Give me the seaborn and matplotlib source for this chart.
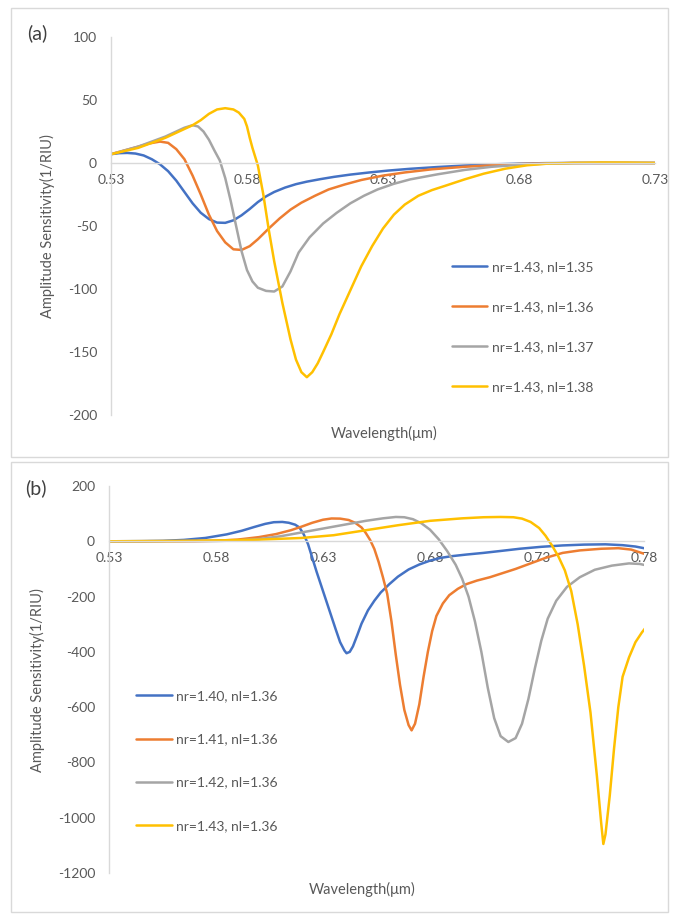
import numpy as np
import pandas as pd
import matplotlib
matplotlib.use("Agg")
import matplotlib.pyplot as plt
from matplotlib.patches import Rectangle
import seaborn as sns

# ---------------- data: panel (a) ----------------
a_labels = ["nr=1.43, nl=1.35", "nr=1.43, nl=1.36", "nr=1.43, nl=1.37", "nr=1.43, nl=1.38"]

a_x_135 = [0.530, 0.533, 0.536, 0.539, 0.542, 0.545, 0.548, 0.551, 0.554, 0.557, 0.560, 0.563,
           0.566, 0.569, 0.572, 0.575, 0.578, 0.581, 0.584, 0.587, 0.590, 0.594, 0.598, 0.602,
           0.607, 0.612, 0.618, 0.625, 0.632, 0.640, 0.650, 0.660, 0.670, 0.680, 0.690, 0.700,
           0.730]
a_y_135 = [7, 7.8, 8, 7.5, 6, 3, -1, -6.5, -14, -23, -32, -39.5,
           -44.5, -47.3, -47.5, -45.5, -41.5, -36.5, -31, -26.5, -23, -19.5, -16.8, -14.8,
           -12.8, -11, -9.2, -7.5, -6, -4.6, -3.2, -2, -1.1, -0.5, -0.1, 0,
           0]

a_x_136 = [0.530, 0.535, 0.540, 0.544, 0.548, 0.551, 0.554, 0.557, 0.560, 0.563, 0.566, 0.569,
           0.572, 0.575, 0.578, 0.581, 0.584, 0.588, 0.592, 0.596, 0.600, 0.605, 0.610, 0.616,
           0.622, 0.630, 0.638, 0.648, 0.660, 0.670, 0.680, 0.690, 0.700, 0.730]
a_y_136 = [7, 10, 13, 15.5, 17, 16, 11, 3, -10, -25, -41, -54,
           -63, -68.5, -69, -66, -60.5, -52, -44, -37, -31.5, -26, -21, -17,
           -13.5, -10, -7.5, -5, -3, -1.8, -0.8, -0.3, 0, 0]

a_x_137 = [0.530, 0.535, 0.540, 0.545, 0.550, 0.554, 0.557, 0.560, 0.562, 0.564, 0.566, 0.568,
           0.570, 0.572, 0.574, 0.576, 0.578, 0.580, 0.582, 0.584, 0.587, 0.590, 0.593, 0.596,
           0.599, 0.603, 0.608, 0.613, 0.618, 0.623, 0.628, 0.634, 0.640, 0.650, 0.660, 0.670,
           0.680, 0.690, 0.700, 0.730]
a_y_137 = [7, 10, 13, 17, 21, 25, 28, 30, 29, 25, 18.5, 10,
           2, -12, -30, -50, -70, -85, -94, -99, -101.5, -102, -98, -86,
           -71, -59, -48, -39.5, -32, -26, -21, -16.5, -13, -9, -5.5, -3,
           -1.5, -0.5, 0, 0]

a_x_138 = [0.530, 0.535, 0.540, 0.545, 0.550, 0.555, 0.560, 0.563, 0.566, 0.569, 0.572, 0.575,
           0.577, 0.579, 0.580, 0.581, 0.582, 0.583, 0.584, 0.586, 0.588, 0.590, 0.593, 0.596,
           0.598, 0.600, 0.602, 0.604, 0.606, 0.608, 0.611, 0.614, 0.618, 0.622, 0.626, 0.630,
           0.634, 0.638, 0.643, 0.648, 0.653, 0.660, 0.667, 0.675, 0.683, 0.690, 0.700, 0.710,
           0.720, 0.730]
a_y_138 = [7, 9.5, 12, 16, 20, 25, 30, 34, 39, 42.5, 43.5, 42.5,
           40, 35, 29, 20, 12, 5, -2, -25, -53, -78, -111, -140,
           -156, -166, -170, -166, -159, -150, -136, -120, -101, -82, -66, -52,
           -41, -33, -26, -21.5, -18, -13, -8.5, -4.5, -1.8, -0.6, 0, 0.4,
           0.3, 0]

# ---------------- data: panel (b) ----------------
b_labels = ["nr=1.40, nl=1.36", "nr=1.41, nl=1.36", "nr=1.42, nl=1.36", "nr=1.43, nl=1.36"]

b_x_140 = [0.530, 0.545, 0.555, 0.565, 0.575, 0.585, 0.592, 0.598, 0.603, 0.607, 0.611, 0.614,
           0.617, 0.619, 0.621, 0.623, 0.625, 0.627, 0.630, 0.633, 0.636, 0.638, 0.640, 0.641,
           0.6425, 0.644, 0.646, 0.648, 0.651, 0.654, 0.657, 0.661, 0.665, 0.670, 0.675, 0.680,
           0.685, 0.690, 0.697, 0.705, 0.713, 0.722, 0.732, 0.742, 0.752, 0.762, 0.770, 0.776,
           0.780]
b_y_140 = [0, 0.5, 1.5, 5, 12, 25, 38, 52, 63, 69, 70, 67,
           60, 50, 25, -10, -60, -110, -180, -250, -320, -365, -395, -405,
           -400, -380, -340, -298, -250, -215, -185, -155, -128, -102, -84, -70,
           -60, -54, -48, -42, -35, -27, -20, -15, -12, -11, -14, -19,
           -25]

b_x_141 = [0.530, 0.570, 0.580, 0.590, 0.600, 0.608, 0.615, 0.620, 0.625, 0.630, 0.634, 0.638,
           0.642, 0.645, 0.648, 0.650, 0.652, 0.654, 0.656, 0.658, 0.660, 0.662, 0.664, 0.666,
           0.668, 0.670, 0.6714, 0.673, 0.675, 0.677, 0.679, 0.681, 0.683, 0.686, 0.689, 0.693,
           0.697, 0.702, 0.708, 0.714, 0.720, 0.727, 0.734, 0.742, 0.750, 0.760, 0.768, 0.774,
           0.780]
b_y_141 = [0, 0.5, 2, 6, 15, 26, 40, 53, 67, 78, 82.5, 82,
           77, 67, 50, 30, 5, -28, -75, -130, -190, -290, -410, -520,
           -610, -665, -684, -660, -590, -490, -400, -325, -270, -225, -195, -172,
           -155, -142, -130, -115, -100, -80, -60, -42, -33, -27, -25, -30,
           -45]

b_x_142 = [0.530, 0.580, 0.590, 0.600, 0.610, 0.620, 0.630, 0.640, 0.650, 0.658, 0.664, 0.668,
           0.672, 0.676, 0.680, 0.684, 0.688, 0.692, 0.695, 0.698, 0.701, 0.704, 0.707, 0.710,
           0.713, 0.7166, 0.720, 0.723, 0.726, 0.729, 0.732, 0.735, 0.739, 0.744, 0.750, 0.757,
           0.765, 0.773, 0.778, 0.781]
b_y_142 = [0, 1, 3, 8, 18, 32, 46, 60, 74, 83, 88, 87,
           80, 65, 42, 8, -35, -85, -135, -200, -290, -400, -530, -640,
           -705, -726, -712, -660, -570, -460, -360, -280, -215, -165, -130, -103,
           -88, -80, -82, -87]

b_x_143 = [0.530, 0.560, 0.580, 0.600, 0.620, 0.635, 0.650, 0.665, 0.680, 0.695, 0.705, 0.713,
           0.719, 0.723, 0.727, 0.731, 0.734, 0.737, 0.740, 0.743, 0.746, 0.749, 0.752, 0.755,
           0.758, 0.760, 0.761, 0.762, 0.764, 0.766, 0.768, 0.770, 0.773, 0.776, 0.779, 0.781]
b_y_143 = [0, 1, 3, 6, 12, 22, 40, 58, 74, 83, 87, 88,
           87, 82, 70, 48, 20, -15, -55, -105, -180, -300, -450, -620,
           -850, -1020, -1095, -1060, -920, -750, -600, -490, -420, -365, -330, -310]

colors = ["#4472C4", "#ED7D31", "#A5A5A5", "#FFC000"]

a_yticks = [-200, -150, -100, -50, 0, 50, 100]
a_xticks = [0.53, 0.58, 0.63, 0.68, 0.73]
b_yticks = [-1200, -1000, -800, -600, -400, -200, 0, 200]
b_xticks = [0.53, 0.58, 0.63, 0.68, 0.73, 0.78]


def frame(xs, ys, labels):
    parts = []
    for x, y, lab in zip(xs, ys, labels):
        parts.append(pd.DataFrame({"wl": x, "s": y, "series": lab}))
    return pd.concat(parts, ignore_index=True)


df_a = frame([a_x_135, a_x_136, a_x_137, a_x_138], [a_y_135, a_y_136, a_y_137, a_y_138], a_labels)
df_b = frame([b_x_140, b_x_141, b_x_142, b_x_143], [b_y_140, b_y_141, b_y_142, b_y_143], b_labels)

sns.set_theme(style="white")
plt.rcParams["font.family"] = ["Lato", "DejaVu Sans"]
plt.rcParams["lines.solid_joinstyle"] = "round"
plt.rcParams["lines.solid_capstyle"] = "round"

W, H = 681, 914
fig = plt.figure(figsize=(W / 100, H / 100), dpi=100)


def px_axes(l, t, r, b):
    return fig.add_axes([l / W, 1 - b / H, (r - l) / W, (b - t) / H])


tick_col = "#595959"
grid_col = "#D9D9D9"

# panel borders
for (l, t, r, b) in [(11, 8, 668, 457), (11, 462, 668, 912)]:
    fig.patches.append(Rectangle((l / W, 1 - b / H), (r - l) / W, (b - t) / H,
                                 transform=fig.transFigure, fill=False,
                                 edgecolor=grid_col, linewidth=1.0))


def style_axes(ax, xlim, ylim, xticks, yticks):
    ax.set_xlim(*xlim)
    ax.set_ylim(*ylim)
    ax.set_xticks(xticks)
    ax.set_xticklabels([f"{v:.2f}" for v in xticks])
    ax.set_yticks(yticks)
    ax.set_yticklabels([f"{v}" for v in yticks])
    for s in ["top", "right"]:
        ax.spines[s].set_visible(False)
    ax.spines["left"].set_color(grid_col)
    ax.spines["left"].set_linewidth(1.0)
    ax.spines["bottom"].set_position(("data", 0))
    ax.spines["bottom"].set_color(grid_col)
    ax.spines["bottom"].set_linewidth(1.0)
    ax.tick_params(axis="both", length=0, colors=tick_col, labelsize=10)
    ax.tick_params(axis="y", pad=10)
    ax.tick_params(axis="x", pad=8)
    ax.set_xlabel("")
    ax.set_ylabel("")
    ax.set_facecolor("none")


# ---------- panel (a) ----------
ax1 = px_axes(111, 37, 655, 415)
sns.lineplot(data=df_a, x="wl", y="s", hue="series", palette=colors, estimator=None,
             sort=False, linewidth=1.8, ax=ax1, legend=True)
style_axes(ax1, (0.53, 0.73), (-200, 100), a_xticks, a_yticks)
h, l = ax1.get_legend_handles_labels()
ax1.get_legend().remove()
leg = fig.legend(h, l, loc="center left", bbox_to_anchor=(452 / W, 1 - 327 / H),
                 frameon=False, fontsize=10, labelspacing=2.0, handlelength=2.5,
                 handletextpad=0.4, borderpad=0, borderaxespad=0)
for t in leg.get_texts():
    t.set_color(tick_col)
for hl in leg.legend_handles:
    hl.set_linewidth(1.8)

fig.text(37 / W, 1 - 33 / H, "(a)", fontsize=14, color="#404040", ha="center", va="center")
fig.text(47 / W, 1 - 226 / H, "Amplitude Sensitivity(1/RIU)", rotation=90, fontsize=10.5,
         color=tick_col, ha="center", va="center")
fig.text(384 / W, 1 - 433 / H, "Wavelength(\u03bcm)", fontsize=10.5, color=tick_col,
         ha="center", va="center")

# ---------- panel (b) ----------
ax2 = px_axes(109, 486, 644, 873)
sns.lineplot(data=df_b, x="wl", y="s", hue="series", palette=colors, estimator=None,
             sort=False, linewidth=1.8, ax=ax2, legend=True)
style_axes(ax2, (0.53, 0.78), (-1200, 200), b_xticks, b_yticks)
h, l = ax2.get_legend_handles_labels()
ax2.get_legend().remove()
leg2 = fig.legend(h, l, loc="center left", bbox_to_anchor=(136 / W, 1 - 761 / H),
                  frameon=False, fontsize=10, labelspacing=2.25, handlelength=2.6,
                  handletextpad=0.3, borderpad=0, borderaxespad=0)
for t in leg2.get_texts():
    t.set_color(tick_col)
for hl in leg2.legend_handles:
    hl.set_linewidth(1.8)

fig.text(36 / W, 1 - 488 / H, "(b)", fontsize=14, color="#404040", ha="center", va="center")
fig.text(37 / W, 1 - 680 / H, "Amplitude Sensitivity(1/RIU)", rotation=90, fontsize=10.5,
         color=tick_col, ha="center", va="center")
fig.text(362 / W, 1 - 889 / H, "Wavelength(\u03bcm)", fontsize=10.5, color=tick_col,
         ha="center", va="center")

fig.savefig("out.png", dpi=100, facecolor="white")
